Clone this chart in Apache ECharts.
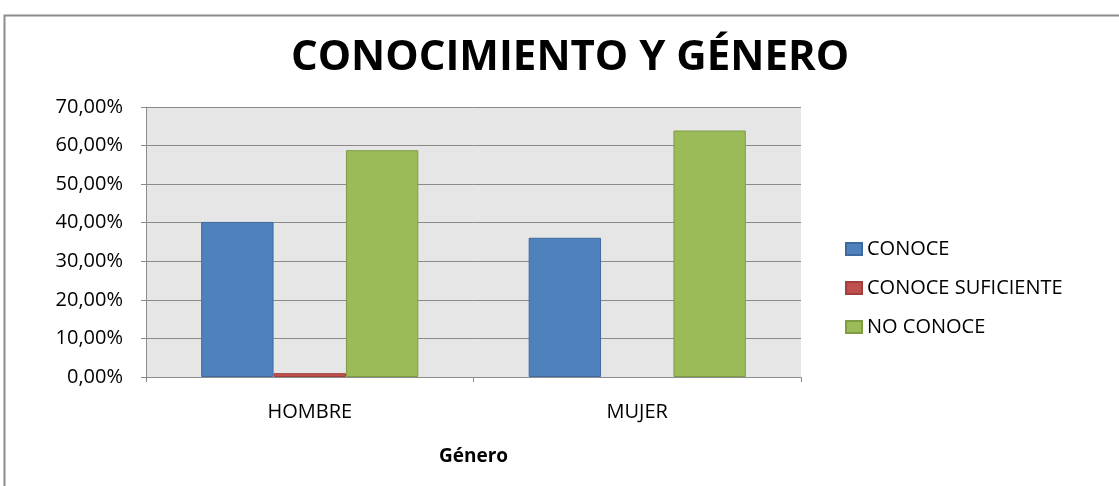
<!DOCTYPE html>
<html>
<head>
<meta charset="utf-8">
<script src="https://cdn.jsdelivr.net/npm/echarts@6/dist/echarts.min.js"></script>
<style>
  html, body { margin: 0; padding: 0; background: #fff; }
  #chart { width: 1119px; height: 486px; }
</style>
</head>
<body>
<div id="chart"></div>
<script>
// chart data (percent)
const categories = ["HOMBRE", "MUJER"];
const seriesNames = ["CONOCE", "CONOCE SUFICIENTE", "NO CONOCE"];
const conoce = [40.2, 36.1];
const conoceSuficiente = [1.0, 0];
const noConoce = [58.8, 63.9];
const yTicks = { min: 0, max: 70, interval: 10 };

const FONT = '"Open Sans", sans-serif';
const colors = ["#4f81bd", "#c0504d", "#9bbb59"];
const borders = ["#3e6b9f", "#a03f3c", "#7f9c45"];

const chart = echarts.init(document.getElementById("chart"));

function pct(v) {
  return v.toFixed(2).replace(".", ",") + "%";
}

const values = [conoce, conoceSuficiente, noConoce];

chart.setOption({
  animation: false,
  textStyle: { fontFamily: FONT },
  title: {
    text: "CONOCIMIENTO Y GÉNERO",
    left: 565,
    textAlign: "center",
    top: 32,
    textStyle: { fontFamily: FONT, fontSize: 42, fontWeight: "bold", color: "#000" }
  },
  graphic: [{
    type: "rect",
    shape: { x: 4.5, y: 15.5, width: 1200, height: 600 },
    style: { fill: null, stroke: "#8c8c8c", lineWidth: 2 },
    silent: true,
    z: -1
  }],
  legend: {
    orient: "vertical",
    left: 840,
    top: 234,
    itemWidth: 16,
    itemHeight: 12,
    itemGap: 19,
    icon: "rect",
    textStyle: { fontFamily: FONT, fontSize: 20, color: "#000" },
    data: seriesNames
  },
  grid: {
    left: 146,
    top: 107,
    width: 655,
    height: 270,
    show: true,
    backgroundColor: "#e6e6e6",
    borderWidth: 0,
    containLabel: false
  },
  xAxis: {
    type: "category",
    data: categories,
    name: "Género",
    nameLocation: "middle",
    nameGap: 70,
    nameTextStyle: { fontFamily: FONT, fontSize: 19, fontWeight: "bold", color: "#000" },
    axisLine: { lineStyle: { color: "#8c8c8c", width: 1 } },
    axisTick: { show: true, length: 5, lineStyle: { color: "#8c8c8c" } },
    axisLabel: { fontFamily: FONT, fontSize: 20, color: "#000", margin: 25 }
  },
  yAxis: {
    type: "value",
    min: yTicks.min,
    max: yTicks.max,
    interval: yTicks.interval,
    axisLine: { show: true, lineStyle: { color: "#8c8c8c" } },
    axisTick: { show: true, length: 5, lineStyle: { color: "#8c8c8c" } },
    splitLine: { lineStyle: { color: "#8a8a8a", width: 1 } },
    axisLabel: { fontFamily: FONT, fontSize: 20, color: "#000", margin: 23, formatter: pct }
  },
  series: seriesNames.map((name, i) => ({
    name: name,
    type: "bar",
    data: values[i].map(v => ({
      value: v,
      itemStyle: { borderWidth: v > 0 ? 1 : 0 }
    })),
    barGap: "0%",
    barCategoryGap: "33.7%",
    itemStyle: { color: colors[i], borderColor: borders[i], borderWidth: 1 }
  }))
});
</script>
</body>
</html>
